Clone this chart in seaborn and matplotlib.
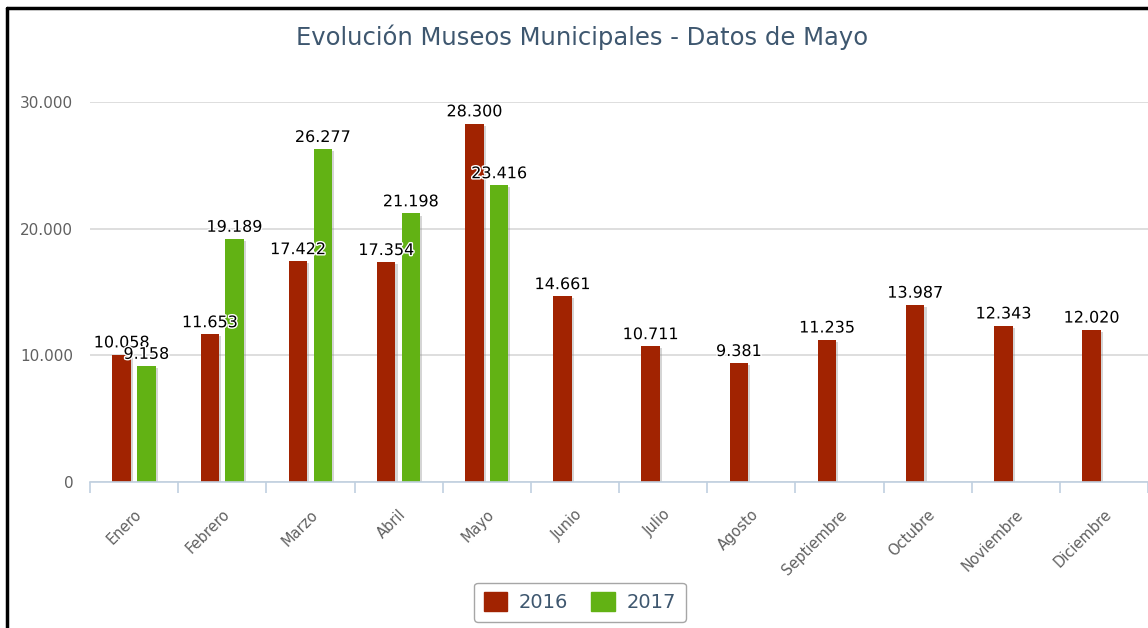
import numpy as np
import pandas as pd
import matplotlib
matplotlib.use("Agg")
import matplotlib.pyplot as plt
import matplotlib.patheffects as pe
from matplotlib.patches import Patch
from matplotlib.lines import Line2D
import seaborn as sns

# data
meses = ["Enero", "Febrero", "Marzo", "Abril", "Mayo", "Junio", "Julio",
         "Agosto", "Septiembre", "Octubre", "Noviembre", "Diciembre"]
visitas_2016 = [10058, 11653, 17422, 17354, 28300, 14661, 10711, 9381,
                11235, 13987, 12343, 12020]
visitas_2017 = [9158, 19189, 26277, 21198, 23416, np.nan, np.nan, np.nan,
                np.nan, np.nan, np.nan, np.nan]
years = ["2016", "2017"]
colors = ["#A12301", "#62B214"]
y_ticks = [0, 10000, 20000, 30000]

df = pd.DataFrame({
    "mes": meses * 2,
    "year": [years[0]] * len(meses) + [years[1]] * len(meses),
    "visitas": visitas_2016 + visitas_2017,
})

sns.set_style("white")
plt.rcParams["font.family"] = ["DejaVu Sans"]

fig = plt.figure(figsize=(11.48, 6.28), dpi=100)
ax = fig.add_axes([0.0784, 0.2325, 0.9216, 0.6051])

sns.barplot(data=df, x="mes", y="visitas", hue="year", order=meses,
            hue_order=years, palette=colors, width=0.56, gap=0.25,
            saturation=1, errorbar=None, legend=False, ax=ax)

shadow = [pe.SimplePatchShadow(offset=(1.5, -1.5), shadow_rgbFace="#888888", alpha=0.35),
          pe.Normal()]
for bar in ax.patches:
    bar.set_path_effects(shadow)
    bar.set_linewidth(0)

fmt = lambda v: f"{v:,.0f}".replace(",", ".")
for cont in ax.containers:
    ax.bar_label(cont, fmt=fmt, padding=3, fontsize=11.5, color="#000000",
                 path_effects=[pe.withStroke(linewidth=2, foreground="white")])

ax.set_ylim(0, 30000)
ax.set_xlim(-0.5, len(meses) - 0.5)
ax.set_yticks(y_ticks)
ax.set_yticklabels([fmt(t) for t in y_ticks], fontsize=11, color="#606060")
ax.yaxis.grid(True, color="#D8D8D8", linewidth=1.2)
ax.set_axisbelow(True)
ax.tick_params(axis="y", length=0, pad=12)

ax.set_xticks(range(len(meses)))
ax.set_xticklabels(meses, rotation=45, ha="right", rotation_mode="anchor",
                   fontsize=10.5, color="#606060")
ax.tick_params(axis="x", which="major", bottom=True, length=0, pad=18)
ax.set_xticks(np.arange(-0.5, len(meses), 1), minor=True)
ax.tick_params(axis="x", which="minor", bottom=True, length=8,
               color="#C0D0E0", width=1.2)
ax.set_xlabel("")
ax.set_ylabel("")

for side in ["top", "right", "left"]:
    ax.spines[side].set_visible(False)
ax.spines["bottom"].set_color("#C0D0E0")
ax.spines["bottom"].set_linewidth(1.2)

fig.text(0.507, 0.94, "Evolución Museos Municipales - Datos de Mayo",
         ha="center", va="center", fontsize=17.5, color="#3E576F")

handles = [Patch(facecolor=c, edgecolor=c, label=y) for c, y in zip(colors, years)]
leg = fig.legend(handles=handles, loc="center", bbox_to_anchor=(0.505, 0.041),
                 ncol=2, fontsize=14, frameon=True, fancybox=True,
                 handlelength=1.2, handleheight=1.1, columnspacing=1.2,
                 handletextpad=0.6, borderpad=0.5)
leg.get_frame().set_edgecolor("#909090")
leg.get_frame().set_linewidth(1)
for t in leg.get_texts():
    t.set_color("#3E576F")

# screenshot frame on the left and top
fig.add_artist(Line2D([0.006, 0.006], [0, 0.987], color="black", lw=2.5,
                      transform=fig.transFigure))
fig.add_artist(Line2D([0.006, 1], [0.987, 0.987], color="black", lw=2.5,
                      transform=fig.transFigure))

fig.savefig("out.png", dpi=100, facecolor="white")
